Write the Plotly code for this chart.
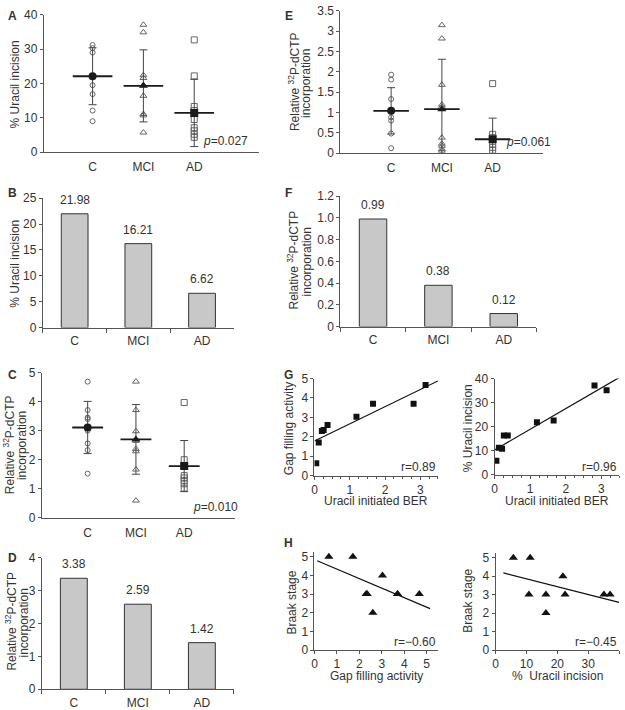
import numpy as np
import plotly.graph_objects as go

W, H = 625, 710
FONT = "Liberation Sans, Arial, Helvetica, sans-serif"
TXT = "#333333"
AX = "#555555"

groups = ["C", "MCI", "AD"]

# ---- Panel A: % uracil incision per subject ----
a_C = [31.2, 30.3, 29.0, 19.5, 16.9, 12.1, 9.0]
a_MCI = [37.1, 34.9, 22.4, 21.6, 19.5, 16.4, 11.1, 10.7, 5.7]
a_AD = [32.7, 22.2, 13.3, 12.1, 9.5, 7.1, 6.2, 5.2, 4.3]
a_mean = [22.1, 19.3, 11.4]
a_sd = [8.3, 10.5, 9.8]

# ---- Panel E: relative 32P-dCTP incorporation (uracil-initiated BER) ----
e_C = [1.93, 1.81, 1.33, 0.88, 0.80, 0.48, 0.12]
e_MCI = [3.15, 2.82, 1.68, 1.19, 1.14, 0.38, 0.23, 0.18, 0.10, 0.06]
e_AD = [1.71, 0.46, 0.38, 0.22, 0.14, 0.07]
e_mean = [1.04, 1.08, 0.34]
e_sd = [0.57, 1.23, 0.52]

# ---- Panel C: relative 32P-dCTP incorporation (gap filling) ----
c_C = [4.69, 3.71, 3.45, 3.40, 3.00, 2.56, 2.33, 1.52]
c_MCI = [4.69, 3.71, 2.98, 2.65, 2.37, 2.29, 1.66, 0.59]
c_AD = [3.97, 2.00, 1.45, 1.37, 1.28, 1.17, 1.02]
c_mean = [3.11, 2.70, 1.78]
c_sd = [0.90, 1.20, 0.88]

# ---- Bar panels (medians) ----
b_vals = [21.98, 16.21, 6.62]
f_vals = [0.99, 0.38, 0.12]
d_vals = [3.38, 2.59, 1.42]

# ---- Correlation panels G, H ----
ber = [0.05, 0.12, 0.21, 0.26, 0.37, 1.19, 1.66, 2.81, 3.15]
gap = [0.64, 1.71, 2.30, 2.35, 2.60, 3.03, 3.70, 3.70, 4.67]
uracil = [5.75, 11.2, 10.8, 16.3, 16.3, 21.8, 22.5, 37.1, 35.1]
braak = [5, 5, 3, 3, 2, 4, 3, 3, 3]
r_labels = ["r=0.89", "r=0.96", "r=\u22120.60", "r=\u22120.45"]
p_labels = ["0.027", "0.061", "0.010"]

fig = go.Figure()

# pixel boxes: (left, right, top, bottom)
boxes = {
    1: (41, 257, 8, 148),     # A
    2: (339, 543, 4, 149),    # E
    3: (40, 232, 195, 327),   # B
    4: (339, 536, 193, 326),  # F
    5: (39, 233, 373, 521),   # C
    6: (39, 232, 562, 696),   # D
    7: (313, 437, 379, 478),  # G left
    8: (494, 619, 379, 477),  # G right
    9: (313, 437, 556, 656),  # H left
    10: (495, 619, 557, 656), # H right
}


def dom(n):
    x0, x1, y0, y1 = boxes[n]
    return [x0 / W, x1 / W], [1 - y1 / H, 1 - y0 / H]


def axn(n):
    return ("x" if n == 1 else f"x{n}"), ("y" if n == 1 else f"y{n}")


def lkey(n):
    return ("xaxis" if n == 1 else f"xaxis{n}"), ("yaxis" if n == 1 else f"yaxis{n}")


base = dict(showline=True, linecolor=AX, linewidth=1, showgrid=False, zeroline=False,
            tickfont=dict(size=12, color=TXT, family=FONT), ticks="outside", ticklen=4,
            tickcolor=AX, fixedrange=True)

layout_axes = {}


def set_axes(n, xkw, ykw):
    xd, yd = dom(n)
    xa, ya = axn(n)
    kx, ky = lkey(n)
    layout_axes[kx] = dict(base, domain=xd, anchor=ya)
    layout_axes[kx].update(xkw)
    layout_axes[ky] = dict(base, domain=yd, anchor=xa)
    layout_axes[ky].update(ykw)


sym_open = ["circle-open", "triangle-up-open", "square-open"]
sym_fill = ["circle", "triangle-up", "square"]


def group_panel(n, lists, means, sds, half, xr, yr, dt):
    xa, ya = axn(n)
    for i, vals in enumerate(lists):
        fig.add_trace(go.Scatter(
            x=[i] * len(vals), y=vals, mode="markers", xaxis=xa, yaxis=ya,
            marker=dict(symbol=sym_open[i], size=5 if i == 0 else 6, color="#666666",
                        line=dict(width=1, color="#666666")),
            showlegend=False, hoverinfo="skip"))
    fig.add_trace(go.Scatter(
        x=[0, 1, 2], y=means, mode="markers", xaxis=xa, yaxis=ya,
        marker=dict(symbol=sym_fill, size=8, color="#1a1a1a"),
        error_y=dict(type="data", array=sds, width=4, thickness=1, color="#444444"),
        error_x=dict(type="constant", value=half, width=0, thickness=1.8, color="#1a1a1a"),
        showlegend=False, hoverinfo="skip"))
    set_axes(n,
             dict(range=xr, tickvals=[0, 1, 2], ticktext=groups, ticks="", ticklabelstandoff=4),
             dict(range=yr, dtick=dt, tick0=0, ticklen=3))


def bar_panel(n, vals, yr, ykw):
    xa, ya = axn(n)
    fig.add_trace(go.Bar(
        x=groups, y=vals, width=0.42, xaxis=xa, yaxis=ya,
        marker=dict(color="#c8c8c8", line=dict(color="#333333", width=1)),
        showlegend=False, hoverinfo="skip"))
    for g, v in zip(groups, vals):
        fig.add_annotation(x=g, y=v, xref=xa, yref=ya, text=f"{v:.2f}", showarrow=False,
                           yanchor="bottom", yshift=5,
                           font=dict(size=12, color=TXT, family=FONT))
    ykw = dict(ykw, range=yr, ticklen=3)
    set_axes(n, dict(type="category", range=[-0.5, 2.5], tickson="boundaries", ticklabelstandoff=2),
             ykw)


def corr_panel(n, xs, ys, symbol, size, fit_x, xr, yr, xdt, ydt, xminor=None):
    xa, ya = axn(n)
    fig.add_trace(go.Scatter(
        x=xs, y=ys, mode="markers", xaxis=xa, yaxis=ya,
        marker=dict(symbol=symbol, size=size, color="#111111"),
        showlegend=False, hoverinfo="skip"))
    k, b = np.polyfit(xs, ys, 1)
    fx = np.array(fit_x)
    fig.add_trace(go.Scatter(
        x=fx, y=k * fx + b, mode="lines", xaxis=xa, yaxis=ya,
        line=dict(color="#111111", width=1.2), showlegend=False, hoverinfo="skip"))
    xkw = dict(range=xr, dtick=xdt, tick0=0, ticklen=3, ticklabelstandoff=0)
    if xminor:
        xkw["minor"] = dict(dtick=xminor, ticks="outside", ticklen=2, tickcolor=AX, showgrid=False)
    set_axes(n, xkw, dict(range=yr, dtick=ydt, tick0=0, ticklen=3))


group_panel(1, [a_C, a_MCI, a_AD], a_mean, a_sd, 0.39, [-0.96, 3.27], [0, 40], 10)
group_panel(2, [e_C, e_MCI, e_AD], e_mean, e_sd, 0.35, [-1.0, 3.0], [0, 3.5], 0.5)
group_panel(5, [c_C, c_MCI, c_AD], c_mean, c_sd, 0.32, [-0.95, 3.05], [0, 5], 1)

bar_panel(3, b_vals, [0, 25], dict(dtick=5, tick0=0))
bar_panel(4, f_vals, [0, 1.2], dict(tickvals=[0, 0.2, 0.4, 0.6, 0.8, 1.0, 1.2],
                                    ticktext=["0", "0.2", "0.4", "0.6", "0.8", "1.0", "1.2"]))
bar_panel(6, d_vals, [0, 4], dict(dtick=1, tick0=0))

corr_panel(7, ber, gap, "square", 6, [0, 3.5], [0, 3.5], [0, 5], 1, 1, xminor=0.25)
corr_panel(8, ber, uracil, "square", 6, [0, 3.5], [0, 3.5], [0, 40], 1, 10, xminor=0.25)
corr_panel(9, gap, braak, "triangle-up", 8, [0.12, 5.15], [0, 5.5], [0, 5.25], 1, 1)
corr_panel(10, uracil, braak, "triangle-up", 8, [2.5, 40], [0, 40], [0, 5.25], 10, 1)


def ann(xp, yp, text, size=12, angle=0, xanchor="center", yanchor="middle", bold=False):
    if bold:
        text = f"<b>{text}</b>"
    fig.add_annotation(x=xp / W, y=1 - yp / H, xref="paper", yref="paper", text=text,
                       showarrow=False, textangle=angle, xanchor=xanchor, yanchor=yanchor,
                       font=dict(size=size, color=TXT, family=FONT))


rel1 = "Relative <sup>32</sup>P-dCTP"
rel2 = "incorporation"
# y-axis titles
ann(12, 79, "% Uracil incision", angle=-90)
ann(12, 262, "% Uracil incision", angle=-90)
ann(6, 446, rel1, angle=-90)
ann(19, 447, rel2, angle=-90)
ann(8, 626, rel1, angle=-90)
ann(21, 628, rel2, angle=-90)
ann(292, 76, rel1, angle=-90)
ann(305, 78, rel2, angle=-90)
ann(291, 258, rel1, angle=-90)
ann(305, 260, rel2, angle=-90)
ann(287, 430, "Gap filling activity", angle=-90)
ann(467, 430, "% Uracil incision", angle=-90)
ann(290, 608, "Braak stage", angle=-90)
ann(467, 606, "Braak stage", angle=-90)
# x-axis titles
ann(375, 504, "Uracil initiated BER")
ann(557, 504, "Uracil initiated BER")
ann(375, 682, "Gap filling activity")
ann(557, 682, "%  Uracil incision")
# panel letters
for letter, xp, yp in [("A", 10, 9), ("B", 10, 190), ("C", 10, 375), ("D", 10, 562),
                       ("E", 287, 9), ("F", 287, 190), ("G", 287, 375), ("H", 287, 547)]:
    ann(xp, yp, letter, size=12, bold=True)
# p values
ann(248, 137, f"<i>p</i>={p_labels[0]}", xanchor="right")
ann(553, 138, f"<i>p</i>={p_labels[1]}", xanchor="right")
ann(238, 510, f"<i>p</i>={p_labels[2]}", xanchor="right")
# r values
ann(437, 469, r_labels[0], xanchor="right")
ann(619, 469, r_labels[1], xanchor="right")
ann(437, 648, r_labels[2], xanchor="right")
ann(619, 648, r_labels[3], xanchor="right")

fig.update_layout(
    width=W, height=H, margin=dict(l=0, r=0, t=0, b=0),
    plot_bgcolor="white", paper_bgcolor="white",
    font=dict(family=FONT, size=12, color=TXT),
    showlegend=False, bargap=0.5,
    **layout_axes)

fig.write_html("out.html", config={"displayModeBar": False},
               post_script="document.body.style.margin='0';document.body.style.overflow='hidden';")
